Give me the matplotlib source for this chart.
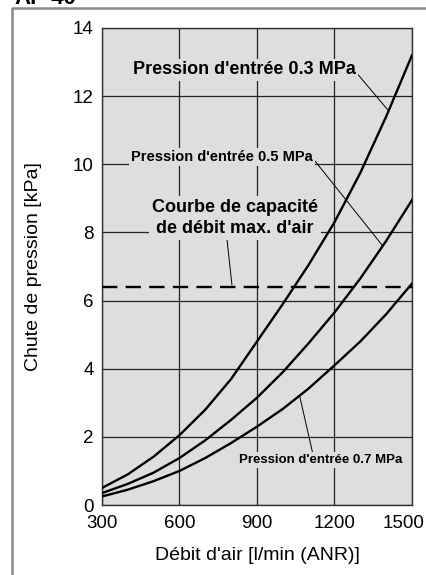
import matplotlib
matplotlib.use("Agg")
import matplotlib.pyplot as plt
import matplotlib.transforms as mtransforms
from matplotlib.lines import Line2D

# Air flow [l/min (ANR)]
flow = [300, 400, 500, 600, 700, 800, 900, 1000, 1100, 1200, 1300, 1400, 1500]

# Pressure drop [kPa] for each inlet pressure
drop_03 = [0.5, 0.9, 1.42, 2.05, 2.8, 3.7, 4.8, 5.9, 7.05, 8.3, 9.75, 11.4, 13.2]
drop_05 = [0.35, 0.62, 0.95, 1.38, 1.9, 2.5, 3.15, 3.9, 4.75, 5.65, 6.65, 7.75, 8.95]
drop_07 = [0.25, 0.45, 0.7, 1.0, 1.38, 1.82, 2.3, 2.82, 3.42, 4.1, 4.8, 5.6, 6.5]

max_flow_limit = 6.4

x_ticks = [300, 600, 900, 1200, 1500]
y_ticks = [0, 2, 4, 6, 8, 10, 12, 14]

BG = "#dedede"
plt.rcParams["font.family"] = ["Liberation Sans", "DejaVu Sans"]

fig = plt.figure(figsize=(4.27, 5.75), dpi=100)
ax = fig.add_axes([102 / 427, 1 - 505 / 575, 310 / 427, 477 / 575])
ax.set_facecolor(BG)

for y in (drop_03, drop_05, drop_07):
    ax.plot(flow, y, color="black", lw=1.7, solid_joinstyle="round", zorder=3)
ax.axhline(max_flow_limit, color="black", lw=1.7, ls=(0, (6.5, 3.5)), zorder=3)

ax.set_xlim(300, 1500)
ax.set_ylim(0, 14)
ax.set_xticks(x_ticks)
ax.set_yticks(y_ticks)
ax.grid(True, color="#222222", lw=0.9, zorder=1)
ax.set_axisbelow(True)
ax.tick_params(length=0, labelsize=13.5)
ax.tick_params(axis="x", pad=7)
ax.tick_params(axis="y", pad=6)
for s in ax.spines.values():
    s.set_color("#333333")
    s.set_linewidth(1.0)

# last x label is pulled in so it stays on the page
last = ax.get_xticklabels()[-1]
last.set_transform(last.get_transform()
                   + mtransforms.ScaledTranslation(-0.08, 0, fig.dpi_scale_trans))

ax.set_xlabel("Débit d'air [l/min (ANR)]", fontsize=14, labelpad=11)
ax.set_ylabel("Chute de pression [kPa]", fontsize=14, labelpad=22)

box = dict(boxstyle="square,pad=0.15", fc=BG, ec="none")
line = dict(arrowstyle="-", color="black", lw=0.7, shrinkA=0, shrinkB=0)

ax.annotate("Pression d'entrée 0.3 MPa", xy=(1407, 11.59), xytext=(850, 12.77),
            ha="center", va="center", fontsize=13, fontweight="bold",
            bbox=box, arrowprops=dict(line, relpos=(1.0, 0.4)), zorder=4)
ax.annotate("Pression d'entrée 0.5 MPa", xy=(1384, 7.63), xytext=(765, 10.21),
            ha="center", va="center", fontsize=10.5, fontweight="bold",
            bbox=box, arrowprops=dict(line, relpos=(1.0, 0.4)), zorder=4)
ax.annotate("Courbe de capacité\nde débit max. d'air", xy=(803, 6.46), xytext=(815, 8.42),
            ha="center", va="center", fontsize=13, fontweight="bold",
            linespacing=1.3, bbox=box, arrowprops=dict(line, relpos=(0.45, 0.0)), zorder=4)
ax.annotate("Pression d'entrée 0.7 MPa", xy=(1066, 3.17), xytext=(1148, 1.32),
            ha="center", va="center", fontsize=9.5, fontweight="bold",
            bbox=box, arrowprops=dict(line, relpos=(0.45, 1.0)), zorder=4)

# grey frame of the catalogue page and the clipped title above it
fx, fy = 12 / 427, 1 - 8 / 575
fig.add_artist(Line2D([fx, fx, 1.0], [0.0, fy, fy], color="#8a8a8a", lw=1.8,
                      transform=fig.transFigure))
fig.text(fx + 0.005, 1 - 4 / 575, "AF-40", fontsize=16, fontweight="bold",
         va="baseline", ha="left")

fig.savefig("out.png", dpi=100)
